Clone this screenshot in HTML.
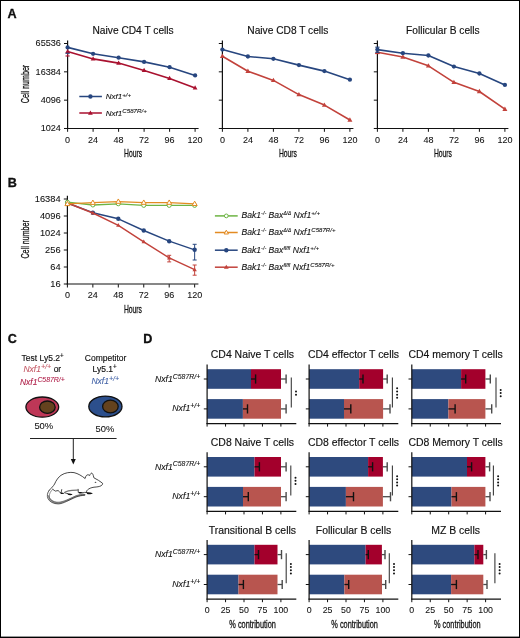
<!DOCTYPE html>
<html><head><meta charset="utf-8"><style>
html,body{margin:0;padding:0;background:#fff;}
svg{display:block;will-change:transform;}
text{font-family:"Liberation Sans", sans-serif;}
</style></head><body>
<svg width="520" height="638" viewBox="0 0 520 638">
<rect x="0" y="0" width="520" height="638" fill="#fff"/>
<text x="7.6" y="18.4" font-size="12.6" text-anchor="start" fill="#111" font-weight="bold" stroke="#000" stroke-width="0.3">A</text>
<text x="7.8" y="187.3" font-size="12.6" text-anchor="start" fill="#111" font-weight="bold" stroke="#000" stroke-width="0.3">B</text>
<text x="7.8" y="342.5" font-size="12.6" text-anchor="start" fill="#111" font-weight="bold" stroke="#000" stroke-width="0.3">C</text>
<text x="143.3" y="342.6" font-size="12.6" text-anchor="start" fill="#111" font-weight="bold" stroke="#000" stroke-width="0.3">D</text>
<text x="133.1" y="34.1" font-size="10.2" text-anchor="middle" fill="#111"  stroke="#111" stroke-width="0.15">Naive CD4 T cells</text>
<line x1="67.6" y1="40.5" x2="67.6" y2="128.9" stroke="#111" stroke-width="1.2"/>
<line x1="67.0" y1="128.5" x2="198.6" y2="128.5" stroke="#111" stroke-width="1.2"/>
<line x1="63.99999999999999" y1="43.5" x2="67.6" y2="43.5" stroke="#111" stroke-width="1"/>
<line x1="63.99999999999999" y1="71.83" x2="67.6" y2="71.83" stroke="#111" stroke-width="1"/>
<line x1="63.99999999999999" y1="100.16" x2="67.6" y2="100.16" stroke="#111" stroke-width="1"/>
<line x1="63.99999999999999" y1="128.49" x2="67.6" y2="128.49" stroke="#111" stroke-width="1"/>
<line x1="67.6" y1="128.5" x2="67.6" y2="131.8" stroke="#111" stroke-width="1"/>
<text x="67.6" y="143.2" font-size="9.0" text-anchor="middle" fill="#111"  stroke="#111" stroke-width="0.08">0</text>
<line x1="93.1" y1="128.5" x2="93.1" y2="131.8" stroke="#111" stroke-width="1"/>
<text x="93.1" y="143.2" font-size="9.0" text-anchor="middle" fill="#111"  stroke="#111" stroke-width="0.08">24</text>
<line x1="118.6" y1="128.5" x2="118.6" y2="131.8" stroke="#111" stroke-width="1"/>
<text x="118.6" y="143.2" font-size="9.0" text-anchor="middle" fill="#111"  stroke="#111" stroke-width="0.08">48</text>
<line x1="144.1" y1="128.5" x2="144.1" y2="131.8" stroke="#111" stroke-width="1"/>
<text x="144.1" y="143.2" font-size="9.0" text-anchor="middle" fill="#111"  stroke="#111" stroke-width="0.08">72</text>
<line x1="169.6" y1="128.5" x2="169.6" y2="131.8" stroke="#111" stroke-width="1"/>
<text x="169.6" y="143.2" font-size="9.0" text-anchor="middle" fill="#111"  stroke="#111" stroke-width="0.08">96</text>
<line x1="195.1" y1="128.5" x2="195.1" y2="131.8" stroke="#111" stroke-width="1"/>
<text x="195.1" y="143.2" font-size="9.0" text-anchor="middle" fill="#111"  stroke="#111" stroke-width="0.08">120</text>
<text x="133.1" y="157.4" font-size="11" text-anchor="middle" fill="#111" textLength="18" lengthAdjust="spacingAndGlyphs" stroke="#111" stroke-width="0.3">Hours</text>
<text x="60.89999999999999" y="46.2" font-size="9.1" text-anchor="end" fill="#111"  stroke="#111" stroke-width="0.08">65536</text>
<text x="60.89999999999999" y="74.53" font-size="9.1" text-anchor="end" fill="#111"  stroke="#111" stroke-width="0.08">16384</text>
<text x="60.89999999999999" y="102.86" font-size="9.1" text-anchor="end" fill="#111"  stroke="#111" stroke-width="0.08">4096</text>
<text x="60.89999999999999" y="131.19" font-size="9.1" text-anchor="end" fill="#111"  stroke="#111" stroke-width="0.08">1024</text>
<text x="0" y="0" font-size="11" text-anchor="middle" fill="#111" stroke="#111" stroke-width="0.3" textLength="38.5" lengthAdjust="spacingAndGlyphs" transform="translate(28.8,84) rotate(-90)">Cell number</text>
<text x="287.9" y="34.1" font-size="10.2" text-anchor="middle" fill="#111"  stroke="#111" stroke-width="0.15">Naive CD8 T cells</text>
<line x1="222.4" y1="40.5" x2="222.4" y2="128.9" stroke="#111" stroke-width="1.2"/>
<line x1="221.8" y1="128.5" x2="353.4" y2="128.5" stroke="#111" stroke-width="1.2"/>
<line x1="218.8" y1="43.5" x2="222.4" y2="43.5" stroke="#111" stroke-width="1"/>
<line x1="218.8" y1="71.83" x2="222.4" y2="71.83" stroke="#111" stroke-width="1"/>
<line x1="218.8" y1="100.16" x2="222.4" y2="100.16" stroke="#111" stroke-width="1"/>
<line x1="218.8" y1="128.49" x2="222.4" y2="128.49" stroke="#111" stroke-width="1"/>
<line x1="222.4" y1="128.5" x2="222.4" y2="131.8" stroke="#111" stroke-width="1"/>
<text x="222.4" y="143.2" font-size="9.0" text-anchor="middle" fill="#111"  stroke="#111" stroke-width="0.08">0</text>
<line x1="247.9" y1="128.5" x2="247.9" y2="131.8" stroke="#111" stroke-width="1"/>
<text x="247.9" y="143.2" font-size="9.0" text-anchor="middle" fill="#111"  stroke="#111" stroke-width="0.08">24</text>
<line x1="273.4" y1="128.5" x2="273.4" y2="131.8" stroke="#111" stroke-width="1"/>
<text x="273.4" y="143.2" font-size="9.0" text-anchor="middle" fill="#111"  stroke="#111" stroke-width="0.08">48</text>
<line x1="298.9" y1="128.5" x2="298.9" y2="131.8" stroke="#111" stroke-width="1"/>
<text x="298.9" y="143.2" font-size="9.0" text-anchor="middle" fill="#111"  stroke="#111" stroke-width="0.08">72</text>
<line x1="324.4" y1="128.5" x2="324.4" y2="131.8" stroke="#111" stroke-width="1"/>
<text x="324.4" y="143.2" font-size="9.0" text-anchor="middle" fill="#111"  stroke="#111" stroke-width="0.08">96</text>
<line x1="349.9" y1="128.5" x2="349.9" y2="131.8" stroke="#111" stroke-width="1"/>
<text x="349.9" y="143.2" font-size="9.0" text-anchor="middle" fill="#111"  stroke="#111" stroke-width="0.08">120</text>
<text x="287.9" y="157.4" font-size="11" text-anchor="middle" fill="#111" textLength="18" lengthAdjust="spacingAndGlyphs" stroke="#111" stroke-width="0.3">Hours</text>
<text x="442.9" y="34.1" font-size="10.2" text-anchor="middle" fill="#111"  stroke="#111" stroke-width="0.15">Follicular B cells</text>
<line x1="377.4" y1="40.5" x2="377.4" y2="128.9" stroke="#111" stroke-width="1.2"/>
<line x1="376.79999999999995" y1="128.5" x2="508.4" y2="128.5" stroke="#111" stroke-width="1.2"/>
<line x1="373.79999999999995" y1="43.5" x2="377.4" y2="43.5" stroke="#111" stroke-width="1"/>
<line x1="373.79999999999995" y1="71.83" x2="377.4" y2="71.83" stroke="#111" stroke-width="1"/>
<line x1="373.79999999999995" y1="100.16" x2="377.4" y2="100.16" stroke="#111" stroke-width="1"/>
<line x1="373.79999999999995" y1="128.49" x2="377.4" y2="128.49" stroke="#111" stroke-width="1"/>
<line x1="377.4" y1="128.5" x2="377.4" y2="131.8" stroke="#111" stroke-width="1"/>
<text x="377.4" y="143.2" font-size="9.0" text-anchor="middle" fill="#111"  stroke="#111" stroke-width="0.08">0</text>
<line x1="402.9" y1="128.5" x2="402.9" y2="131.8" stroke="#111" stroke-width="1"/>
<text x="402.9" y="143.2" font-size="9.0" text-anchor="middle" fill="#111"  stroke="#111" stroke-width="0.08">24</text>
<line x1="428.4" y1="128.5" x2="428.4" y2="131.8" stroke="#111" stroke-width="1"/>
<text x="428.4" y="143.2" font-size="9.0" text-anchor="middle" fill="#111"  stroke="#111" stroke-width="0.08">48</text>
<line x1="453.9" y1="128.5" x2="453.9" y2="131.8" stroke="#111" stroke-width="1"/>
<text x="453.9" y="143.2" font-size="9.0" text-anchor="middle" fill="#111"  stroke="#111" stroke-width="0.08">72</text>
<line x1="479.4" y1="128.5" x2="479.4" y2="131.8" stroke="#111" stroke-width="1"/>
<text x="479.4" y="143.2" font-size="9.0" text-anchor="middle" fill="#111"  stroke="#111" stroke-width="0.08">96</text>
<line x1="504.9" y1="128.5" x2="504.9" y2="131.8" stroke="#111" stroke-width="1"/>
<text x="504.9" y="143.2" font-size="9.0" text-anchor="middle" fill="#111"  stroke="#111" stroke-width="0.08">120</text>
<text x="442.9" y="157.4" font-size="11" text-anchor="middle" fill="#111" textLength="18" lengthAdjust="spacingAndGlyphs" stroke="#111" stroke-width="0.3">Hours</text>
<line x1="67.6" y1="48" x2="67.6" y2="56" stroke="#a9112f" stroke-width="1"/>
<line x1="65.5" y1="56" x2="69.7" y2="56" stroke="#a9112f" stroke-width="1.1"/>
<polyline points="67.6,51.5 93.1,58.9 118.6,63.1 144.1,70.4 169.6,78.4 195.1,87.9" fill="none" stroke="#a9112f" stroke-width="1.6" stroke-linejoin="round"/>
<polygon points="67.6,48.97 70.00349999999999,53.1445 65.1965,53.1445" fill="#a9112f"/>
<polygon points="93.1,56.37 95.50349999999999,60.5445 90.6965,60.5445" fill="#a9112f"/>
<polygon points="118.6,60.57 121.00349999999999,64.7445 116.1965,64.7445" fill="#a9112f"/>
<polygon points="144.1,67.87 146.5035,72.0445 141.6965,72.0445" fill="#a9112f"/>
<polygon points="169.6,75.87 172.0035,80.0445 167.1965,80.0445" fill="#a9112f"/>
<polygon points="195.1,85.37 197.5035,89.5445 192.6965,89.5445" fill="#a9112f"/>
<polyline points="67.6,47.4 93.1,53.8 118.6,57.7 144.1,61.9 169.6,67.2 195.1,75.4" fill="none" stroke="#27467f" stroke-width="1.6" stroke-linejoin="round"/>
<circle cx="67.6" cy="47.4" r="2.15" fill="#27467f"/>
<circle cx="93.1" cy="53.8" r="2.15" fill="#27467f"/>
<circle cx="118.6" cy="57.7" r="2.15" fill="#27467f"/>
<circle cx="144.1" cy="61.9" r="2.15" fill="#27467f"/>
<circle cx="169.6" cy="67.2" r="2.15" fill="#27467f"/>
<circle cx="195.1" cy="75.4" r="2.15" fill="#27467f"/>
<line x1="65.5" y1="53.3" x2="69.7" y2="53.3" stroke="#27467f" stroke-width="1.1"/>
<polyline points="222.4,56.2 247.9,71.2 273.4,80.4 298.9,94.6 324.4,105.1 349.9,120" fill="none" stroke="#c2423b" stroke-width="1.6" stroke-linejoin="round"/>
<polygon points="222.4,53.55500000000001 224.91275000000002,57.919250000000005 219.88725,57.919250000000005" fill="#c2423b"/>
<polygon points="247.9,68.555 250.41275000000002,72.91925 245.38725,72.91925" fill="#c2423b"/>
<polygon points="273.4,77.75500000000001 275.91274999999996,82.11925000000001 270.88725,82.11925000000001" fill="#c2423b"/>
<polygon points="298.9,91.955 301.41274999999996,96.31925 296.38725,96.31925" fill="#c2423b"/>
<polygon points="324.4,102.455 326.91274999999996,106.81925 321.88725,106.81925" fill="#c2423b"/>
<polygon points="349.9,117.355 352.41274999999996,121.71925 347.38725,121.71925" fill="#c2423b"/>
<polyline points="222.4,49.6 247.9,56.5 273.4,58.8 298.9,65.1 324.4,71.1 349.9,79.7" fill="none" stroke="#27467f" stroke-width="1.6" stroke-linejoin="round"/>
<circle cx="222.4" cy="49.6" r="2.15" fill="#27467f"/>
<circle cx="247.9" cy="56.5" r="2.15" fill="#27467f"/>
<circle cx="273.4" cy="58.8" r="2.15" fill="#27467f"/>
<circle cx="298.9" cy="65.1" r="2.15" fill="#27467f"/>
<circle cx="324.4" cy="71.1" r="2.15" fill="#27467f"/>
<circle cx="349.9" cy="79.7" r="2.15" fill="#27467f"/>
<polyline points="377.4,52.2 402.9,57 428.4,65.8 453.9,82.3 479.4,91.5 504.9,109.2" fill="none" stroke="#c2423b" stroke-width="1.6" stroke-linejoin="round"/>
<polygon points="377.4,49.55500000000001 379.91274999999996,53.919250000000005 374.88725,53.919250000000005" fill="#c2423b"/>
<polygon points="402.9,54.355000000000004 405.41274999999996,58.71925 400.38725,58.71925" fill="#c2423b"/>
<polygon points="428.4,63.155 430.91274999999996,67.51925 425.88725,67.51925" fill="#c2423b"/>
<polygon points="453.9,79.655 456.41274999999996,84.01925 451.38725,84.01925" fill="#c2423b"/>
<polygon points="479.4,88.855 481.91274999999996,93.21925 476.88725,93.21925" fill="#c2423b"/>
<polygon points="504.9,106.555 507.41274999999996,110.91925 502.38725,110.91925" fill="#c2423b"/>
<polyline points="377.4,49.6 402.9,53.2 428.4,55.5 453.9,66.6 479.4,73.5 504.9,84.9" fill="none" stroke="#27467f" stroke-width="1.6" stroke-linejoin="round"/>
<circle cx="377.4" cy="49.6" r="2.15" fill="#27467f"/>
<circle cx="402.9" cy="53.2" r="2.15" fill="#27467f"/>
<circle cx="428.4" cy="55.5" r="2.15" fill="#27467f"/>
<circle cx="453.9" cy="66.6" r="2.15" fill="#27467f"/>
<circle cx="479.4" cy="73.5" r="2.15" fill="#27467f"/>
<circle cx="504.9" cy="84.9" r="2.15" fill="#27467f"/>
<line x1="377.4" y1="47.2" x2="377.4" y2="52.3" stroke="#27467f" stroke-width="1.4"/>
<line x1="375.3" y1="47.2" x2="379.5" y2="47.2" stroke="#27467f" stroke-width="1.2"/>
<line x1="375.3" y1="52.3" x2="379.5" y2="52.3" stroke="#27467f" stroke-width="1.2"/>
<line x1="375.3" y1="53.6" x2="379.5" y2="53.6" stroke="#c2423b" stroke-width="1.1"/>
<line x1="79.3" y1="96.5" x2="101.9" y2="96.5" stroke="#27467f" stroke-width="1.5"/>
<circle cx="90.4" cy="96.5" r="2.2" fill="#27467f"/>
<text x="105.8" y="99.3" font-size="8" font-style="italic" fill="#111" stroke="#111" stroke-width="0.1">Nxf1<tspan font-size="6.2" dy="-2.8">+/+</tspan></text>
<line x1="79.3" y1="113" x2="101.9" y2="113" stroke="#a9112f" stroke-width="1.5"/>
<polygon points="90.4,110.5 92.775,114.625 88.025,114.625" fill="#a9112f"/>
<text x="105.8" y="115.8" font-size="8" font-style="italic" fill="#111" stroke="#111" stroke-width="0.1">Nxf1<tspan font-size="6.2" dy="-2.8">C587R/+</tspan></text>
<line x1="67.4" y1="195.8" x2="67.4" y2="284.6" stroke="#111" stroke-width="1.2"/>
<line x1="66.80000000000001" y1="284" x2="198.4" y2="284" stroke="#111" stroke-width="1.2"/>
<line x1="63.800000000000004" y1="199" x2="67.4" y2="199" stroke="#111" stroke-width="1"/>
<text x="60.60000000000001" y="201.7" font-size="9.3" text-anchor="end" fill="#111"  stroke="#111" stroke-width="0.08">16384</text>
<line x1="63.800000000000004" y1="216" x2="67.4" y2="216" stroke="#111" stroke-width="1"/>
<text x="60.60000000000001" y="218.7" font-size="9.3" text-anchor="end" fill="#111"  stroke="#111" stroke-width="0.08">4096</text>
<line x1="63.800000000000004" y1="233" x2="67.4" y2="233" stroke="#111" stroke-width="1"/>
<text x="60.60000000000001" y="235.7" font-size="9.3" text-anchor="end" fill="#111"  stroke="#111" stroke-width="0.08">1024</text>
<line x1="63.800000000000004" y1="250" x2="67.4" y2="250" stroke="#111" stroke-width="1"/>
<text x="60.60000000000001" y="252.7" font-size="9.3" text-anchor="end" fill="#111"  stroke="#111" stroke-width="0.08">256</text>
<line x1="63.800000000000004" y1="267" x2="67.4" y2="267" stroke="#111" stroke-width="1"/>
<text x="60.60000000000001" y="269.7" font-size="9.3" text-anchor="end" fill="#111"  stroke="#111" stroke-width="0.08">64</text>
<line x1="63.800000000000004" y1="284" x2="67.4" y2="284" stroke="#111" stroke-width="1"/>
<text x="60.60000000000001" y="286.7" font-size="9.3" text-anchor="end" fill="#111"  stroke="#111" stroke-width="0.08">16</text>
<line x1="67.4" y1="284.2" x2="67.4" y2="287.5" stroke="#111" stroke-width="1"/>
<text x="67.4" y="298.2" font-size="9.0" text-anchor="middle" fill="#111"  stroke="#111" stroke-width="0.08">0</text>
<line x1="92.85000000000001" y1="284.2" x2="92.85000000000001" y2="287.5" stroke="#111" stroke-width="1"/>
<text x="92.85000000000001" y="298.2" font-size="9.0" text-anchor="middle" fill="#111"  stroke="#111" stroke-width="0.08">24</text>
<line x1="118.30000000000001" y1="284.2" x2="118.30000000000001" y2="287.5" stroke="#111" stroke-width="1"/>
<text x="118.30000000000001" y="298.2" font-size="9.0" text-anchor="middle" fill="#111"  stroke="#111" stroke-width="0.08">48</text>
<line x1="143.75" y1="284.2" x2="143.75" y2="287.5" stroke="#111" stroke-width="1"/>
<text x="143.75" y="298.2" font-size="9.0" text-anchor="middle" fill="#111"  stroke="#111" stroke-width="0.08">72</text>
<line x1="169.2" y1="284.2" x2="169.2" y2="287.5" stroke="#111" stroke-width="1"/>
<text x="169.2" y="298.2" font-size="9.0" text-anchor="middle" fill="#111"  stroke="#111" stroke-width="0.08">96</text>
<line x1="194.65" y1="284.2" x2="194.65" y2="287.5" stroke="#111" stroke-width="1"/>
<text x="194.65" y="298.2" font-size="9.0" text-anchor="middle" fill="#111"  stroke="#111" stroke-width="0.08">120</text>
<text x="132.9" y="313.2" font-size="11" text-anchor="middle" fill="#111" textLength="18" lengthAdjust="spacingAndGlyphs" stroke="#111" stroke-width="0.3">Hours</text>
<text x="0" y="0" font-size="11" text-anchor="middle" fill="#111" stroke="#111" stroke-width="0.3" textLength="38.5" lengthAdjust="spacingAndGlyphs" transform="translate(28.5,239.3) rotate(-90)">Cell number</text>
<line x1="194.65" y1="244.3" x2="194.65" y2="260" stroke="#27467f" stroke-width="1"/>
<line x1="192.65" y1="244.3" x2="196.65" y2="244.3" stroke="#27467f" stroke-width="1"/>
<line x1="192.65" y1="260" x2="196.65" y2="260" stroke="#27467f" stroke-width="1"/>
<line x1="169.2" y1="255.3" x2="169.2" y2="261.9" stroke="#c2423b" stroke-width="1"/>
<line x1="167.2" y1="255.3" x2="171.2" y2="255.3" stroke="#c2423b" stroke-width="1"/>
<line x1="167.2" y1="261.9" x2="171.2" y2="261.9" stroke="#c2423b" stroke-width="1"/>
<line x1="194.65" y1="265" x2="194.65" y2="275.2" stroke="#c2423b" stroke-width="1"/>
<line x1="192.65" y1="265" x2="196.65" y2="265" stroke="#c2423b" stroke-width="1"/>
<line x1="192.65" y1="275.2" x2="196.65" y2="275.2" stroke="#c2423b" stroke-width="1"/>
<polyline points="67.4,203 92.85,212.7 118.3,218.8 143.75,230.5 169.2,241.2 194.65,249.8" fill="none" stroke="#27467f" stroke-width="1.4" stroke-linejoin="round"/>
<circle cx="67.4" cy="203" r="2.2" fill="#27467f"/>
<circle cx="92.85" cy="212.7" r="2.2" fill="#27467f"/>
<circle cx="118.3" cy="218.8" r="2.2" fill="#27467f"/>
<circle cx="143.75" cy="230.5" r="2.2" fill="#27467f"/>
<circle cx="169.2" cy="241.2" r="2.2" fill="#27467f"/>
<circle cx="194.65" cy="249.8" r="2.2" fill="#27467f"/>
<polyline points="67.4,203 92.85,213 118.3,225.3 143.75,241.8 169.2,257.9 194.65,269.7" fill="none" stroke="#c2423b" stroke-width="1.4" stroke-linejoin="round"/>
<polygon points="67.4,200.7 69.58500000000001,204.495 65.215,204.495" fill="#c2423b"/>
<polygon points="92.85,210.7 95.035,214.495 90.66499999999999,214.495" fill="#c2423b"/>
<polygon points="118.3,223.0 120.485,226.79500000000002 116.115,226.79500000000002" fill="#c2423b"/>
<polygon points="143.75,239.5 145.935,243.29500000000002 141.565,243.29500000000002" fill="#c2423b"/>
<polygon points="169.2,255.59999999999997 171.385,259.395 167.015,259.395" fill="#c2423b"/>
<polygon points="194.65,267.4 196.835,271.195 192.465,271.195" fill="#c2423b"/>
<polyline points="67.4,202.2 92.85,205 118.3,203.8 143.75,205.4 169.2,205.4 194.65,205.4" fill="none" stroke="#6db443" stroke-width="1.3" stroke-linejoin="round"/>
<circle cx="67.4" cy="202.2" r="2.0" fill="#fff" stroke="#6db443" stroke-width="1"/>
<circle cx="92.85" cy="205" r="2.0" fill="#fff" stroke="#6db443" stroke-width="1"/>
<circle cx="118.3" cy="203.8" r="2.0" fill="#fff" stroke="#6db443" stroke-width="1"/>
<circle cx="143.75" cy="205.4" r="2.0" fill="#fff" stroke="#6db443" stroke-width="1"/>
<circle cx="169.2" cy="205.4" r="2.0" fill="#fff" stroke="#6db443" stroke-width="1"/>
<circle cx="194.65" cy="205.4" r="2.0" fill="#fff" stroke="#6db443" stroke-width="1"/>
<polyline points="67.4,203.9 92.85,202.7 118.3,201.6 143.75,202.6 169.2,202.6 194.65,203.8" fill="none" stroke="#e38b22" stroke-width="1.3" stroke-linejoin="round"/>
<polygon points="67.4,201.26000000000002 69.908,205.616 64.89200000000001,205.616" fill="#fff" stroke="#e38b22" stroke-width="1"/>
<polygon points="92.85,200.06 95.35799999999999,204.416 90.342,204.416" fill="#fff" stroke="#e38b22" stroke-width="1"/>
<polygon points="118.3,198.96 120.80799999999999,203.316 115.792,203.316" fill="#fff" stroke="#e38b22" stroke-width="1"/>
<polygon points="143.75,199.96 146.258,204.316 141.242,204.316" fill="#fff" stroke="#e38b22" stroke-width="1"/>
<polygon points="169.2,199.96 171.708,204.316 166.69199999999998,204.316" fill="#fff" stroke="#e38b22" stroke-width="1"/>
<polygon points="194.65,201.16000000000003 197.15800000000002,205.51600000000002 192.142,205.51600000000002" fill="#fff" stroke="#e38b22" stroke-width="1"/>
<line x1="214.9" y1="215.9" x2="237.7" y2="215.9" stroke="#6db443" stroke-width="1.5"/>
<circle cx="226.3" cy="215.9" r="1.9" fill="#fff" stroke="#6db443" stroke-width="1"/>
<text x="241.5" y="218.4" font-size="8.6" font-style="italic" fill="#111" stroke="#111" stroke-width="0.1">Bak1<tspan font-size="5.4" dy="-3.2">-/-</tspan><tspan dy="3.2"> Bax</tspan><tspan font-size="4.8" dy="-3.2">Δ/Δ</tspan><tspan dy="3.2"> Nxf1</tspan><tspan font-size="6.1" dy="-3.0">+/+</tspan></text>
<line x1="214.9" y1="232.5" x2="237.7" y2="232.5" stroke="#e38b22" stroke-width="1.5"/>
<polygon points="226.3,230.2 228.485,233.995 224.115,233.995" fill="#fff" stroke="#e38b22" stroke-width="1"/>
<text x="241.5" y="235.0" font-size="8.6" font-style="italic" fill="#111" stroke="#111" stroke-width="0.1">Bak1<tspan font-size="5.4" dy="-3.2">-/-</tspan><tspan dy="3.2"> Bax</tspan><tspan font-size="4.8" dy="-3.2">Δ/Δ</tspan><tspan dy="3.2"> Nxf1</tspan><tspan font-size="6.1" dy="-3.0">C587R/+</tspan></text>
<line x1="214.9" y1="250.2" x2="237.7" y2="250.2" stroke="#27467f" stroke-width="1.5"/>
<circle cx="226.3" cy="250.2" r="2.2" fill="#27467f"/>
<text x="241.5" y="252.7" font-size="8.6" font-style="italic" fill="#111" stroke="#111" stroke-width="0.1">Bak1<tspan font-size="5.4" dy="-3.2">-/-</tspan><tspan dy="3.2"> Bax</tspan><tspan font-size="5.4" dy="-3.2">fl/fl</tspan><tspan dy="3.2"> Nxf1</tspan><tspan font-size="6.1" dy="-3.0">+/+</tspan></text>
<line x1="214.9" y1="267.2" x2="237.7" y2="267.2" stroke="#c2423b" stroke-width="1.5"/>
<polygon points="226.3,264.7 228.675,268.825 223.925,268.825" fill="#c2423b"/>
<text x="241.5" y="269.7" font-size="8.6" font-style="italic" fill="#111" stroke="#111" stroke-width="0.1">Bak1<tspan font-size="5.4" dy="-3.2">-/-</tspan><tspan dy="3.2"> Bax</tspan><tspan font-size="5.4" dy="-3.2">fl/fl</tspan><tspan dy="3.2"> Nxf1</tspan><tspan font-size="6.1" dy="-3.0">C587R/+</tspan></text>
<text x="21.6" y="360.8" font-size="8.5" text-anchor="start" fill="#111"  stroke="#111" stroke-width="0.15">Test Ly5.2<tspan font-size="6.3" dy="-3.2">+</tspan></text>
<text x="23.4" y="372.4" font-size="8.5" fill="#111" stroke="#111" stroke-width="0.15"><tspan font-style="italic" fill="#c55a66" stroke="#c55a66" stroke-width="0.1">Nxf1<tspan font-size="7.2" dy="-3.1">+/+</tspan></tspan><tspan dy="3.1"> or</tspan></text>
<text x="19.9" y="384.5" font-size="8.5" font-style="italic" fill="#b0204a" stroke="#b0204a" stroke-width="0.1">Nxf1<tspan font-size="6.9" dy="-3.0">C587R/+</tspan></text>
<text x="84.8" y="360.5" font-size="8.5" text-anchor="start" fill="#111"  stroke="#111" stroke-width="0.15">Competitor</text>
<text x="92.6" y="371.8" font-size="8.5" text-anchor="start" fill="#111"  stroke="#111" stroke-width="0.15">Ly5.1<tspan font-size="6.3" dy="-3.2">+</tspan></text>
<text x="91.4" y="383.8" font-size="8.5" font-style="italic" fill="#4262a6" stroke="#4262a6" stroke-width="0.1">Nxf1<tspan font-size="7.2" dy="-3.1">+/+</tspan></text>
<ellipse cx="42.3" cy="407.1" rx="16.4" ry="10.1" fill="#be3757" stroke="#111" stroke-width="1.3"/>
<ellipse cx="47.4" cy="407.2" rx="7.8" ry="6.2" fill="#64421e" stroke="#111" stroke-width="1.3"/>
<ellipse cx="105.4" cy="406.5" rx="16.6" ry="10.4" fill="#2c4f8c" stroke="#111" stroke-width="1.3"/>
<ellipse cx="110.4" cy="406.5" rx="7.8" ry="6.4" fill="#64421e" stroke="#111" stroke-width="1.3"/>
<text x="34.4" y="428.8" font-size="9.4" text-anchor="start" fill="#111"  stroke="#111" stroke-width="0.08">50%</text>
<text x="95.6" y="431.8" font-size="9.4" text-anchor="start" fill="#111"  stroke="#111" stroke-width="0.08">50%</text>
<line x1="30" y1="438.5" x2="116.6" y2="438.5" stroke="#222" stroke-width="1"/>
<line x1="73.3" y1="438.5" x2="73.3" y2="460" stroke="#222" stroke-width="1"/>
<polygon points="70.8,459 75.8,459 73.3,464.6" fill="#111"/>
<g fill="none" stroke="#1a1a1a" stroke-width="0.8" stroke-linejoin="round" stroke-linecap="round">
<path d="M49.3,490.2 C51.5,487.8 53.5,486 54.6,484 C56,480.5 58.5,477 61,475.3 C65,472.6 70,472 74,472.6 C78,473.5 82,476 85.1,478.5 C85.4,477 85.9,476 86.5,475.4 C87.3,474.6 88.6,474.6 89.7,475.5 C90,474.4 90.8,473.2 91.6,473.1 C92.5,473.3 93,474.5 93.3,475.5 L93.9,477.8 C97,479.5 100,481 102.4,483.1 C103,484 102.3,485 101,485.8 C99.5,486.6 97,487 94,487.2 C91,487.6 89,488.6 87.6,489.8 C86.7,490.6 86.3,491.5 86.6,492.4"/>
<path d="M52.8,489.3 C53.8,490 54.6,490.8 55.5,491.1 C56.5,491 57.4,490.4 58.2,490.6 C59,491 59.6,492 60.4,492.8"/>
<path d="M61.7,489.6 L61.2,492.4 M78.1,489.3 L78.3,492.2 M86.6,492.4 C85.2,492.2 83.8,492.4 83,492.8"/>
<path d="M64.6,492.6 C65.8,493.2 66.8,493.5 67.9,493.7"/>
<path d="M65.2,492 C67,491.2 69.5,490.6 72,490.4 C74.5,490.2 76.5,490.1 78.1,490.2" stroke="#777" stroke-width="1.3"/>
<path d="M48.6,496 C48.8,499.8 53,502.9 58.2,503 C63,503 70,499 75.9,496.4 C79,495.2 82,494.8 84.7,494.8" stroke="#8a8a8a" stroke-width="1.5"/>
<path d="M49.3,490.2 C47.2,492.5 46.8,496 48,498.6 C49.5,501.8 53.5,503.9 58.2,503.9 C63,503.9 70,499.5 75.9,497.1 C79,495.9 82,495.4 84.7,495.2" stroke-width="0.7"/>
<path d="M52.8,489.3 C50.6,491 49.4,493.5 49.3,496.2 C49.3,499.5 53,502 58,502.2 C63,502.2 70,498.5 75.9,495.8 C79,494.6 82,494.3 84.7,494.4" stroke-width="0.6" stroke="#444"/>
</g>
<ellipse cx="95.5" cy="482.3" rx="0.8" ry="0.55" fill="#222"/>
<path d="M86.6,492.3 C88.5,492 91,492.4 92.8,493.2 C91.6,494.4 89,494.6 87,494 Z M78.4,492.1 C80.3,491.8 82.5,492.1 83.6,492.8 C82.6,493.6 80.3,493.7 78.8,493.2 Z M67.6,493.5 C69.5,493.4 71.6,493.8 72.6,494.5 C71.6,495.3 69.3,495.3 67.9,494.8 Z M60.2,492.6 C61.6,492.4 63.4,492.7 64.6,493.3 C63.7,494.1 61.8,494.2 60.6,493.8 Z" fill="#111"/>
<text x="252.39999999999998" y="358.0" font-size="10.45" text-anchor="middle" fill="#111"  stroke="#111" stroke-width="0.15">CD4 Naive T cells</text>
<rect x="207.1" y="369.2" width="43.900000000000006" height="19.600000000000023" fill="#2e4a7e"/>
<rect x="251" y="369.2" width="30" height="19.600000000000023" fill="#a3002c"/>
<rect x="207.1" y="399.1" width="35.80000000000001" height="19.599999999999966" fill="#2e4a7e"/>
<rect x="242.9" y="399.1" width="38.099999999999994" height="19.599999999999966" fill="#b8554f"/>
<line x1="251" y1="379.0" x2="255.6" y2="379.0" stroke="#111" stroke-width="1.3"/>
<line x1="255.6" y1="374.4" x2="255.6" y2="383.6" stroke="#111" stroke-width="1.4"/>
<line x1="242.9" y1="408.9" x2="247.5" y2="408.9" stroke="#111" stroke-width="1.3"/>
<line x1="247.5" y1="404.29999999999995" x2="247.5" y2="413.5" stroke="#111" stroke-width="1.4"/>
<line x1="281" y1="379.0" x2="286.1" y2="379.0" stroke="#4a4a4a" stroke-width="1.3"/>
<line x1="286.1" y1="374.4" x2="286.1" y2="383.6" stroke="#4a4a4a" stroke-width="1.4"/>
<line x1="281" y1="408.9" x2="286.1" y2="408.9" stroke="#4a4a4a" stroke-width="1.3"/>
<line x1="286.1" y1="404.29999999999995" x2="286.1" y2="413.5" stroke="#4a4a4a" stroke-width="1.4"/>
<line x1="291.3" y1="377.6" x2="291.3" y2="407.59999999999997" stroke="#3a3a3a" stroke-width="1.1"/>
<circle cx="296.0" cy="391.475" r="1.0" fill="#111"/>
<circle cx="296.0" cy="394.625" r="1.0" fill="#111"/>
<line x1="207.1" y1="364.5" x2="207.1" y2="424.0" stroke="#111" stroke-width="1.2"/>
<line x1="206.5" y1="423.6" x2="296.3" y2="423.6" stroke="#111" stroke-width="1.2"/>
<line x1="207.1" y1="423.6" x2="207.1" y2="426.6" stroke="#111" stroke-width="1"/>
<line x1="225.54999999999998" y1="423.6" x2="225.54999999999998" y2="426.6" stroke="#111" stroke-width="1"/>
<line x1="244.0" y1="423.6" x2="244.0" y2="426.6" stroke="#111" stroke-width="1"/>
<line x1="262.45" y1="423.6" x2="262.45" y2="426.6" stroke="#111" stroke-width="1"/>
<line x1="280.9" y1="423.6" x2="280.9" y2="426.6" stroke="#111" stroke-width="1"/>
<line x1="203.79999999999998" y1="379.0" x2="207.1" y2="379.0" stroke="#111" stroke-width="1"/>
<line x1="203.79999999999998" y1="408.9" x2="207.1" y2="408.9" stroke="#111" stroke-width="1"/>
<text x="353.5" y="358.0" font-size="10.45" text-anchor="middle" fill="#111"  stroke="#111" stroke-width="0.15">CD4 effector T cells</text>
<rect x="309.1" y="369.2" width="50.099999999999966" height="19.600000000000023" fill="#2e4a7e"/>
<rect x="359.2" y="369.2" width="23.900000000000034" height="19.600000000000023" fill="#a3002c"/>
<rect x="309.1" y="399.1" width="34.89999999999998" height="19.599999999999966" fill="#2e4a7e"/>
<rect x="344" y="399.1" width="39.10000000000002" height="19.599999999999966" fill="#b8554f"/>
<line x1="359.2" y1="379.0" x2="363" y2="379.0" stroke="#111" stroke-width="1.3"/>
<line x1="363" y1="374.4" x2="363" y2="383.6" stroke="#111" stroke-width="1.4"/>
<line x1="344" y1="408.9" x2="350.8" y2="408.9" stroke="#111" stroke-width="1.3"/>
<line x1="350.8" y1="404.29999999999995" x2="350.8" y2="413.5" stroke="#111" stroke-width="1.4"/>
<line x1="383.1" y1="379.0" x2="387.2" y2="379.0" stroke="#4a4a4a" stroke-width="1.3"/>
<line x1="387.2" y1="374.4" x2="387.2" y2="383.6" stroke="#4a4a4a" stroke-width="1.4"/>
<line x1="383.1" y1="408.9" x2="390" y2="408.9" stroke="#4a4a4a" stroke-width="1.3"/>
<line x1="390" y1="404.29999999999995" x2="390" y2="413.5" stroke="#4a4a4a" stroke-width="1.4"/>
<line x1="392.4" y1="377.6" x2="392.4" y2="407.59999999999997" stroke="#3a3a3a" stroke-width="1.1"/>
<circle cx="397.09999999999997" cy="388.325" r="1.0" fill="#111"/>
<circle cx="397.09999999999997" cy="391.475" r="1.0" fill="#111"/>
<circle cx="397.09999999999997" cy="394.625" r="1.0" fill="#111"/>
<circle cx="397.09999999999997" cy="397.77500000000003" r="1.0" fill="#111"/>
<line x1="309.1" y1="364.5" x2="309.1" y2="424.0" stroke="#111" stroke-width="1.2"/>
<line x1="308.5" y1="423.6" x2="398.3" y2="423.6" stroke="#111" stroke-width="1.2"/>
<line x1="309.1" y1="423.6" x2="309.1" y2="426.6" stroke="#111" stroke-width="1"/>
<line x1="327.55" y1="423.6" x2="327.55" y2="426.6" stroke="#111" stroke-width="1"/>
<line x1="346.0" y1="423.6" x2="346.0" y2="426.6" stroke="#111" stroke-width="1"/>
<line x1="364.45000000000005" y1="423.6" x2="364.45000000000005" y2="426.6" stroke="#111" stroke-width="1"/>
<line x1="382.90000000000003" y1="423.6" x2="382.90000000000003" y2="426.6" stroke="#111" stroke-width="1"/>
<line x1="305.8" y1="379.0" x2="309.1" y2="379.0" stroke="#111" stroke-width="1"/>
<line x1="305.8" y1="408.9" x2="309.1" y2="408.9" stroke="#111" stroke-width="1"/>
<text x="455.6" y="358.0" font-size="10.45" text-anchor="middle" fill="#111"  stroke="#111" stroke-width="0.15">CD4 memory T cells</text>
<rect x="411.8" y="369.2" width="49.30000000000001" height="19.600000000000023" fill="#2e4a7e"/>
<rect x="461.1" y="369.2" width="24.299999999999955" height="19.600000000000023" fill="#a3002c"/>
<rect x="411.8" y="399.1" width="36.599999999999966" height="19.599999999999966" fill="#2e4a7e"/>
<rect x="448.4" y="399.1" width="37.0" height="19.599999999999966" fill="#b8554f"/>
<line x1="461.1" y1="379.0" x2="465.7" y2="379.0" stroke="#111" stroke-width="1.3"/>
<line x1="465.7" y1="374.4" x2="465.7" y2="383.6" stroke="#111" stroke-width="1.4"/>
<line x1="448.4" y1="408.9" x2="455.1" y2="408.9" stroke="#111" stroke-width="1.3"/>
<line x1="455.1" y1="404.29999999999995" x2="455.1" y2="413.5" stroke="#111" stroke-width="1.4"/>
<line x1="485.4" y1="379.0" x2="490.3" y2="379.0" stroke="#4a4a4a" stroke-width="1.3"/>
<line x1="490.3" y1="374.4" x2="490.3" y2="383.6" stroke="#4a4a4a" stroke-width="1.4"/>
<line x1="485.4" y1="408.9" x2="491.7" y2="408.9" stroke="#4a4a4a" stroke-width="1.3"/>
<line x1="491.7" y1="404.29999999999995" x2="491.7" y2="413.5" stroke="#4a4a4a" stroke-width="1.4"/>
<line x1="496" y1="377.6" x2="496" y2="407.59999999999997" stroke="#3a3a3a" stroke-width="1.1"/>
<circle cx="500.7" cy="389.90000000000003" r="1.0" fill="#111"/>
<circle cx="500.7" cy="393.05" r="1.0" fill="#111"/>
<circle cx="500.7" cy="396.2" r="1.0" fill="#111"/>
<line x1="411.8" y1="364.5" x2="411.8" y2="424.0" stroke="#111" stroke-width="1.2"/>
<line x1="411.2" y1="423.6" x2="501.0" y2="423.6" stroke="#111" stroke-width="1.2"/>
<line x1="411.8" y1="423.6" x2="411.8" y2="426.6" stroke="#111" stroke-width="1"/>
<line x1="430.25" y1="423.6" x2="430.25" y2="426.6" stroke="#111" stroke-width="1"/>
<line x1="448.7" y1="423.6" x2="448.7" y2="426.6" stroke="#111" stroke-width="1"/>
<line x1="467.15" y1="423.6" x2="467.15" y2="426.6" stroke="#111" stroke-width="1"/>
<line x1="485.6" y1="423.6" x2="485.6" y2="426.6" stroke="#111" stroke-width="1"/>
<line x1="408.5" y1="379.0" x2="411.8" y2="379.0" stroke="#111" stroke-width="1"/>
<line x1="408.5" y1="408.9" x2="411.8" y2="408.9" stroke="#111" stroke-width="1"/>
<text x="200.2" y="381.7" font-size="8.7" font-style="italic" fill="#111" text-anchor="end" stroke="#111" stroke-width="0.1">Nxf1<tspan font-size="6.9" dy="-3.1">C587R/+</tspan></text>
<text x="200.2" y="411.1" font-size="8.7" font-style="italic" fill="#111" text-anchor="end" stroke="#111" stroke-width="0.1">Nxf1<tspan font-size="6.9" dy="-3.1">+/+</tspan></text>
<text x="252.39999999999998" y="445.8" font-size="10.45" text-anchor="middle" fill="#111"  stroke="#111" stroke-width="0.15">CD8 Naive T cells</text>
<rect x="207.1" y="457.0" width="47.400000000000006" height="19.600000000000023" fill="#2e4a7e"/>
<rect x="254.5" y="457.0" width="26.5" height="19.600000000000023" fill="#a3002c"/>
<rect x="207.1" y="486.90000000000003" width="35.900000000000006" height="19.599999999999966" fill="#2e4a7e"/>
<rect x="243" y="486.90000000000003" width="38" height="19.599999999999966" fill="#b8554f"/>
<line x1="254.5" y1="466.8" x2="259.4" y2="466.8" stroke="#111" stroke-width="1.3"/>
<line x1="259.4" y1="462.2" x2="259.4" y2="471.40000000000003" stroke="#111" stroke-width="1.4"/>
<line x1="243" y1="496.70000000000005" x2="248.3" y2="496.70000000000005" stroke="#111" stroke-width="1.3"/>
<line x1="248.3" y1="492.1" x2="248.3" y2="501.30000000000007" stroke="#111" stroke-width="1.4"/>
<line x1="281" y1="466.8" x2="286.1" y2="466.8" stroke="#4a4a4a" stroke-width="1.3"/>
<line x1="286.1" y1="462.2" x2="286.1" y2="471.40000000000003" stroke="#4a4a4a" stroke-width="1.4"/>
<line x1="281" y1="496.70000000000005" x2="286.1" y2="496.70000000000005" stroke="#4a4a4a" stroke-width="1.3"/>
<line x1="286.1" y1="492.1" x2="286.1" y2="501.30000000000007" stroke="#4a4a4a" stroke-width="1.4"/>
<line x1="290.8" y1="465.40000000000003" x2="290.8" y2="495.40000000000003" stroke="#3a3a3a" stroke-width="1.1"/>
<circle cx="295.5" cy="477.70000000000005" r="1.0" fill="#111"/>
<circle cx="295.5" cy="480.85" r="1.0" fill="#111"/>
<circle cx="295.5" cy="484.0" r="1.0" fill="#111"/>
<line x1="207.1" y1="452.3" x2="207.1" y2="511.8" stroke="#111" stroke-width="1.2"/>
<line x1="206.5" y1="511.40000000000003" x2="296.3" y2="511.40000000000003" stroke="#111" stroke-width="1.2"/>
<line x1="207.1" y1="511.40000000000003" x2="207.1" y2="514.4" stroke="#111" stroke-width="1"/>
<line x1="225.54999999999998" y1="511.40000000000003" x2="225.54999999999998" y2="514.4" stroke="#111" stroke-width="1"/>
<line x1="244.0" y1="511.40000000000003" x2="244.0" y2="514.4" stroke="#111" stroke-width="1"/>
<line x1="262.45" y1="511.40000000000003" x2="262.45" y2="514.4" stroke="#111" stroke-width="1"/>
<line x1="280.9" y1="511.40000000000003" x2="280.9" y2="514.4" stroke="#111" stroke-width="1"/>
<line x1="203.79999999999998" y1="466.8" x2="207.1" y2="466.8" stroke="#111" stroke-width="1"/>
<line x1="203.79999999999998" y1="496.70000000000005" x2="207.1" y2="496.70000000000005" stroke="#111" stroke-width="1"/>
<text x="353.5" y="445.8" font-size="10.45" text-anchor="middle" fill="#111"  stroke="#111" stroke-width="0.15">CD8 effector T cells</text>
<rect x="309.1" y="457.0" width="59.0" height="19.600000000000023" fill="#2e4a7e"/>
<rect x="368.1" y="457.0" width="14.799999999999955" height="19.600000000000023" fill="#a3002c"/>
<rect x="309.1" y="486.90000000000003" width="36.799999999999955" height="19.599999999999966" fill="#2e4a7e"/>
<rect x="345.9" y="486.90000000000003" width="37.0" height="19.599999999999966" fill="#b8554f"/>
<line x1="368.1" y1="466.8" x2="372.6" y2="466.8" stroke="#111" stroke-width="1.3"/>
<line x1="372.6" y1="462.2" x2="372.6" y2="471.40000000000003" stroke="#111" stroke-width="1.4"/>
<line x1="345.9" y1="496.70000000000005" x2="353.5" y2="496.70000000000005" stroke="#111" stroke-width="1.3"/>
<line x1="353.5" y1="492.1" x2="353.5" y2="501.30000000000007" stroke="#111" stroke-width="1.4"/>
<line x1="382.9" y1="466.8" x2="387.2" y2="466.8" stroke="#4a4a4a" stroke-width="1.3"/>
<line x1="387.2" y1="462.2" x2="387.2" y2="471.40000000000003" stroke="#4a4a4a" stroke-width="1.4"/>
<line x1="382.9" y1="496.70000000000005" x2="390.5" y2="496.70000000000005" stroke="#4a4a4a" stroke-width="1.3"/>
<line x1="390.5" y1="492.1" x2="390.5" y2="501.30000000000007" stroke="#4a4a4a" stroke-width="1.4"/>
<line x1="392.4" y1="465.40000000000003" x2="392.4" y2="495.40000000000003" stroke="#3a3a3a" stroke-width="1.1"/>
<circle cx="397.09999999999997" cy="476.125" r="1.0" fill="#111"/>
<circle cx="397.09999999999997" cy="479.27500000000003" r="1.0" fill="#111"/>
<circle cx="397.09999999999997" cy="482.425" r="1.0" fill="#111"/>
<circle cx="397.09999999999997" cy="485.57500000000005" r="1.0" fill="#111"/>
<line x1="309.1" y1="452.3" x2="309.1" y2="511.8" stroke="#111" stroke-width="1.2"/>
<line x1="308.5" y1="511.40000000000003" x2="398.3" y2="511.40000000000003" stroke="#111" stroke-width="1.2"/>
<line x1="309.1" y1="511.40000000000003" x2="309.1" y2="514.4" stroke="#111" stroke-width="1"/>
<line x1="327.55" y1="511.40000000000003" x2="327.55" y2="514.4" stroke="#111" stroke-width="1"/>
<line x1="346.0" y1="511.40000000000003" x2="346.0" y2="514.4" stroke="#111" stroke-width="1"/>
<line x1="364.45000000000005" y1="511.40000000000003" x2="364.45000000000005" y2="514.4" stroke="#111" stroke-width="1"/>
<line x1="382.90000000000003" y1="511.40000000000003" x2="382.90000000000003" y2="514.4" stroke="#111" stroke-width="1"/>
<line x1="305.8" y1="466.8" x2="309.1" y2="466.8" stroke="#111" stroke-width="1"/>
<line x1="305.8" y1="496.70000000000005" x2="309.1" y2="496.70000000000005" stroke="#111" stroke-width="1"/>
<text x="455.6" y="445.8" font-size="10.45" text-anchor="middle" fill="#111"  stroke="#111" stroke-width="0.15">CD8 Memory T cells</text>
<rect x="411.8" y="457.0" width="55.19999999999999" height="19.600000000000023" fill="#2e4a7e"/>
<rect x="467" y="457.0" width="18.399999999999977" height="19.600000000000023" fill="#a3002c"/>
<rect x="411.8" y="486.90000000000003" width="39.69999999999999" height="19.599999999999966" fill="#2e4a7e"/>
<rect x="451.5" y="486.90000000000003" width="33.89999999999998" height="19.599999999999966" fill="#b8554f"/>
<line x1="467" y1="466.8" x2="471.6" y2="466.8" stroke="#111" stroke-width="1.3"/>
<line x1="471.6" y1="462.2" x2="471.6" y2="471.40000000000003" stroke="#111" stroke-width="1.4"/>
<line x1="451.5" y1="496.70000000000005" x2="456.4" y2="496.70000000000005" stroke="#111" stroke-width="1.3"/>
<line x1="456.4" y1="492.1" x2="456.4" y2="501.30000000000007" stroke="#111" stroke-width="1.4"/>
<line x1="485.4" y1="466.8" x2="489.6" y2="466.8" stroke="#4a4a4a" stroke-width="1.3"/>
<line x1="489.6" y1="462.2" x2="489.6" y2="471.40000000000003" stroke="#4a4a4a" stroke-width="1.4"/>
<line x1="485.4" y1="496.70000000000005" x2="490" y2="496.70000000000005" stroke="#4a4a4a" stroke-width="1.3"/>
<line x1="490" y1="492.1" x2="490" y2="501.30000000000007" stroke="#4a4a4a" stroke-width="1.4"/>
<line x1="493.4" y1="465.40000000000003" x2="493.4" y2="495.40000000000003" stroke="#3a3a3a" stroke-width="1.1"/>
<circle cx="498.09999999999997" cy="476.125" r="1.0" fill="#111"/>
<circle cx="498.09999999999997" cy="479.27500000000003" r="1.0" fill="#111"/>
<circle cx="498.09999999999997" cy="482.425" r="1.0" fill="#111"/>
<circle cx="498.09999999999997" cy="485.57500000000005" r="1.0" fill="#111"/>
<line x1="411.8" y1="452.3" x2="411.8" y2="511.8" stroke="#111" stroke-width="1.2"/>
<line x1="411.2" y1="511.40000000000003" x2="501.0" y2="511.40000000000003" stroke="#111" stroke-width="1.2"/>
<line x1="411.8" y1="511.40000000000003" x2="411.8" y2="514.4" stroke="#111" stroke-width="1"/>
<line x1="430.25" y1="511.40000000000003" x2="430.25" y2="514.4" stroke="#111" stroke-width="1"/>
<line x1="448.7" y1="511.40000000000003" x2="448.7" y2="514.4" stroke="#111" stroke-width="1"/>
<line x1="467.15" y1="511.40000000000003" x2="467.15" y2="514.4" stroke="#111" stroke-width="1"/>
<line x1="485.6" y1="511.40000000000003" x2="485.6" y2="514.4" stroke="#111" stroke-width="1"/>
<line x1="408.5" y1="466.8" x2="411.8" y2="466.8" stroke="#111" stroke-width="1"/>
<line x1="408.5" y1="496.70000000000005" x2="411.8" y2="496.70000000000005" stroke="#111" stroke-width="1"/>
<text x="200.2" y="469.5" font-size="8.7" font-style="italic" fill="#111" text-anchor="end" stroke="#111" stroke-width="0.1">Nxf1<tspan font-size="6.9" dy="-3.1">C587R/+</tspan></text>
<text x="200.2" y="498.90000000000003" font-size="8.7" font-style="italic" fill="#111" text-anchor="end" stroke="#111" stroke-width="0.1">Nxf1<tspan font-size="6.9" dy="-3.1">+/+</tspan></text>
<text x="252.39999999999998" y="533.6" font-size="10.45" text-anchor="middle" fill="#111"  stroke="#111" stroke-width="0.15">Transitional B cells</text>
<rect x="207.1" y="544.8" width="47.400000000000006" height="19.600000000000023" fill="#2e4a7e"/>
<rect x="254.5" y="544.8" width="23.0" height="19.600000000000023" fill="#a3002c"/>
<rect x="207.1" y="574.7" width="31.400000000000006" height="19.59999999999991" fill="#2e4a7e"/>
<rect x="238.5" y="574.7" width="39.0" height="19.59999999999991" fill="#b8554f"/>
<line x1="254.5" y1="554.5999999999999" x2="258.5" y2="554.5999999999999" stroke="#111" stroke-width="1.3"/>
<line x1="258.5" y1="549.9999999999999" x2="258.5" y2="559.1999999999999" stroke="#111" stroke-width="1.4"/>
<line x1="238.5" y1="584.5" x2="243.4" y2="584.5" stroke="#111" stroke-width="1.3"/>
<line x1="243.4" y1="579.9" x2="243.4" y2="589.1" stroke="#111" stroke-width="1.4"/>
<line x1="277.5" y1="554.5999999999999" x2="281.5" y2="554.5999999999999" stroke="#4a4a4a" stroke-width="1.3"/>
<line x1="281.5" y1="549.9999999999999" x2="281.5" y2="559.1999999999999" stroke="#4a4a4a" stroke-width="1.4"/>
<line x1="277.5" y1="584.5" x2="282.2" y2="584.5" stroke="#4a4a4a" stroke-width="1.3"/>
<line x1="282.2" y1="579.9" x2="282.2" y2="589.1" stroke="#4a4a4a" stroke-width="1.4"/>
<line x1="286.2" y1="553.1999999999999" x2="286.2" y2="583.2" stroke="#3a3a3a" stroke-width="1.1"/>
<circle cx="290.9" cy="563.925" r="1.0" fill="#111"/>
<circle cx="290.9" cy="567.0749999999999" r="1.0" fill="#111"/>
<circle cx="290.9" cy="570.225" r="1.0" fill="#111"/>
<circle cx="290.9" cy="573.375" r="1.0" fill="#111"/>
<line x1="207.1" y1="540.1" x2="207.1" y2="599.6" stroke="#111" stroke-width="1.2"/>
<line x1="206.5" y1="599.2" x2="296.3" y2="599.2" stroke="#111" stroke-width="1.2"/>
<line x1="207.1" y1="599.2" x2="207.1" y2="602.2" stroke="#111" stroke-width="1"/>
<line x1="225.54999999999998" y1="599.2" x2="225.54999999999998" y2="602.2" stroke="#111" stroke-width="1"/>
<line x1="244.0" y1="599.2" x2="244.0" y2="602.2" stroke="#111" stroke-width="1"/>
<line x1="262.45" y1="599.2" x2="262.45" y2="602.2" stroke="#111" stroke-width="1"/>
<line x1="280.9" y1="599.2" x2="280.9" y2="602.2" stroke="#111" stroke-width="1"/>
<line x1="203.79999999999998" y1="554.5999999999999" x2="207.1" y2="554.5999999999999" stroke="#111" stroke-width="1"/>
<line x1="203.79999999999998" y1="584.5" x2="207.1" y2="584.5" stroke="#111" stroke-width="1"/>
<text x="207.1" y="613.4" font-size="8.8" text-anchor="middle" fill="#111"  stroke="#111" stroke-width="0.08">0</text>
<text x="225.54999999999998" y="613.4" font-size="8.8" text-anchor="middle" fill="#111"  stroke="#111" stroke-width="0.08">25</text>
<text x="244.0" y="613.4" font-size="8.8" text-anchor="middle" fill="#111"  stroke="#111" stroke-width="0.08">50</text>
<text x="262.45" y="613.4" font-size="8.8" text-anchor="middle" fill="#111"  stroke="#111" stroke-width="0.08">75</text>
<text x="280.9" y="613.4" font-size="8.8" text-anchor="middle" fill="#111"  stroke="#111" stroke-width="0.08">100</text>
<text x="252.6" y="628.4" font-size="11" text-anchor="middle" fill="#111" textLength="46.6" lengthAdjust="spacingAndGlyphs" stroke="#111" stroke-width="0.3">% contribution</text>
<text x="353.5" y="533.6" font-size="10.45" text-anchor="middle" fill="#111"  stroke="#111" stroke-width="0.15">Follicular B cells</text>
<rect x="309.1" y="544.8" width="56.5" height="19.600000000000023" fill="#2e4a7e"/>
<rect x="365.6" y="544.8" width="16.299999999999955" height="19.600000000000023" fill="#a3002c"/>
<rect x="309.1" y="574.7" width="35.299999999999955" height="19.59999999999991" fill="#2e4a7e"/>
<rect x="344.4" y="574.7" width="37.60000000000002" height="19.59999999999991" fill="#b8554f"/>
<line x1="365.6" y1="554.5999999999999" x2="368.3" y2="554.5999999999999" stroke="#111" stroke-width="1.3"/>
<line x1="368.3" y1="549.9999999999999" x2="368.3" y2="559.1999999999999" stroke="#111" stroke-width="1.4"/>
<line x1="344.4" y1="584.5" x2="348.7" y2="584.5" stroke="#111" stroke-width="1.3"/>
<line x1="348.7" y1="579.9" x2="348.7" y2="589.1" stroke="#111" stroke-width="1.4"/>
<line x1="381.9" y1="554.5999999999999" x2="385" y2="554.5999999999999" stroke="#4a4a4a" stroke-width="1.3"/>
<line x1="385" y1="549.9999999999999" x2="385" y2="559.1999999999999" stroke="#4a4a4a" stroke-width="1.4"/>
<line x1="382" y1="584.5" x2="385.7" y2="584.5" stroke="#4a4a4a" stroke-width="1.3"/>
<line x1="385.7" y1="579.9" x2="385.7" y2="589.1" stroke="#4a4a4a" stroke-width="1.4"/>
<line x1="389.3" y1="553.1999999999999" x2="389.3" y2="583.2" stroke="#3a3a3a" stroke-width="1.1"/>
<circle cx="394.0" cy="563.925" r="1.0" fill="#111"/>
<circle cx="394.0" cy="567.0749999999999" r="1.0" fill="#111"/>
<circle cx="394.0" cy="570.225" r="1.0" fill="#111"/>
<circle cx="394.0" cy="573.375" r="1.0" fill="#111"/>
<line x1="309.1" y1="540.1" x2="309.1" y2="599.6" stroke="#111" stroke-width="1.2"/>
<line x1="308.5" y1="599.2" x2="398.3" y2="599.2" stroke="#111" stroke-width="1.2"/>
<line x1="309.1" y1="599.2" x2="309.1" y2="602.2" stroke="#111" stroke-width="1"/>
<line x1="327.55" y1="599.2" x2="327.55" y2="602.2" stroke="#111" stroke-width="1"/>
<line x1="346.0" y1="599.2" x2="346.0" y2="602.2" stroke="#111" stroke-width="1"/>
<line x1="364.45000000000005" y1="599.2" x2="364.45000000000005" y2="602.2" stroke="#111" stroke-width="1"/>
<line x1="382.90000000000003" y1="599.2" x2="382.90000000000003" y2="602.2" stroke="#111" stroke-width="1"/>
<line x1="305.8" y1="554.5999999999999" x2="309.1" y2="554.5999999999999" stroke="#111" stroke-width="1"/>
<line x1="305.8" y1="584.5" x2="309.1" y2="584.5" stroke="#111" stroke-width="1"/>
<text x="309.1" y="613.4" font-size="8.8" text-anchor="middle" fill="#111"  stroke="#111" stroke-width="0.08">0</text>
<text x="327.55" y="613.4" font-size="8.8" text-anchor="middle" fill="#111"  stroke="#111" stroke-width="0.08">25</text>
<text x="346.0" y="613.4" font-size="8.8" text-anchor="middle" fill="#111"  stroke="#111" stroke-width="0.08">50</text>
<text x="364.45000000000005" y="613.4" font-size="8.8" text-anchor="middle" fill="#111"  stroke="#111" stroke-width="0.08">75</text>
<text x="382.90000000000003" y="613.4" font-size="8.8" text-anchor="middle" fill="#111"  stroke="#111" stroke-width="0.08">100</text>
<text x="354.6" y="628.4" font-size="11" text-anchor="middle" fill="#111" textLength="46.6" lengthAdjust="spacingAndGlyphs" stroke="#111" stroke-width="0.3">% contribution</text>
<text x="455.6" y="533.6" font-size="10.45" text-anchor="middle" fill="#111"  stroke="#111" stroke-width="0.15">MZ B cells</text>
<rect x="411.8" y="544.8" width="62.599999999999966" height="19.600000000000023" fill="#2e4a7e"/>
<rect x="474.4" y="544.8" width="8.900000000000034" height="19.600000000000023" fill="#a3002c"/>
<rect x="411.8" y="574.7" width="39.30000000000001" height="19.59999999999991" fill="#2e4a7e"/>
<rect x="451.1" y="574.7" width="32.19999999999999" height="19.59999999999991" fill="#b8554f"/>
<line x1="474.4" y1="554.5999999999999" x2="478" y2="554.5999999999999" stroke="#111" stroke-width="1.3"/>
<line x1="478" y1="549.9999999999999" x2="478" y2="559.1999999999999" stroke="#111" stroke-width="1.4"/>
<line x1="451.1" y1="584.5" x2="456.4" y2="584.5" stroke="#111" stroke-width="1.3"/>
<line x1="456.4" y1="579.9" x2="456.4" y2="589.1" stroke="#111" stroke-width="1.4"/>
<line x1="483.3" y1="554.5999999999999" x2="486.4" y2="554.5999999999999" stroke="#4a4a4a" stroke-width="1.3"/>
<line x1="486.4" y1="549.9999999999999" x2="486.4" y2="559.1999999999999" stroke="#4a4a4a" stroke-width="1.4"/>
<line x1="483.3" y1="584.5" x2="487" y2="584.5" stroke="#4a4a4a" stroke-width="1.3"/>
<line x1="487" y1="579.9" x2="487" y2="589.1" stroke="#4a4a4a" stroke-width="1.4"/>
<line x1="494.9" y1="553.1999999999999" x2="494.9" y2="583.2" stroke="#3a3a3a" stroke-width="1.1"/>
<circle cx="499.59999999999997" cy="563.925" r="1.0" fill="#111"/>
<circle cx="499.59999999999997" cy="567.0749999999999" r="1.0" fill="#111"/>
<circle cx="499.59999999999997" cy="570.225" r="1.0" fill="#111"/>
<circle cx="499.59999999999997" cy="573.375" r="1.0" fill="#111"/>
<line x1="411.8" y1="540.1" x2="411.8" y2="599.6" stroke="#111" stroke-width="1.2"/>
<line x1="411.2" y1="599.2" x2="501.0" y2="599.2" stroke="#111" stroke-width="1.2"/>
<line x1="411.8" y1="599.2" x2="411.8" y2="602.2" stroke="#111" stroke-width="1"/>
<line x1="430.25" y1="599.2" x2="430.25" y2="602.2" stroke="#111" stroke-width="1"/>
<line x1="448.7" y1="599.2" x2="448.7" y2="602.2" stroke="#111" stroke-width="1"/>
<line x1="467.15" y1="599.2" x2="467.15" y2="602.2" stroke="#111" stroke-width="1"/>
<line x1="485.6" y1="599.2" x2="485.6" y2="602.2" stroke="#111" stroke-width="1"/>
<line x1="408.5" y1="554.5999999999999" x2="411.8" y2="554.5999999999999" stroke="#111" stroke-width="1"/>
<line x1="408.5" y1="584.5" x2="411.8" y2="584.5" stroke="#111" stroke-width="1"/>
<text x="411.8" y="613.4" font-size="8.8" text-anchor="middle" fill="#111"  stroke="#111" stroke-width="0.08">0</text>
<text x="430.25" y="613.4" font-size="8.8" text-anchor="middle" fill="#111"  stroke="#111" stroke-width="0.08">25</text>
<text x="448.7" y="613.4" font-size="8.8" text-anchor="middle" fill="#111"  stroke="#111" stroke-width="0.08">50</text>
<text x="467.15" y="613.4" font-size="8.8" text-anchor="middle" fill="#111"  stroke="#111" stroke-width="0.08">75</text>
<text x="485.6" y="613.4" font-size="8.8" text-anchor="middle" fill="#111"  stroke="#111" stroke-width="0.08">100</text>
<text x="457.3" y="628.4" font-size="11" text-anchor="middle" fill="#111" textLength="46.6" lengthAdjust="spacingAndGlyphs" stroke="#111" stroke-width="0.3">% contribution</text>
<text x="200.2" y="557.3" font-size="8.7" font-style="italic" fill="#111" text-anchor="end" stroke="#111" stroke-width="0.1">Nxf1<tspan font-size="6.9" dy="-3.1">C587R/+</tspan></text>
<text x="200.2" y="586.7" font-size="8.7" font-style="italic" fill="#111" text-anchor="end" stroke="#111" stroke-width="0.1">Nxf1<tspan font-size="6.9" dy="-3.1">+/+</tspan></text>
<rect x="0" y="0" width="520" height="1" fill="#000"/>
<rect x="0" y="0" width="1" height="638" fill="#000"/>
<rect x="519" y="0" width="1" height="638" fill="#000"/>
<rect x="0" y="636.6" width="520" height="1.4" fill="#000"/>
</svg>
</body></html>
